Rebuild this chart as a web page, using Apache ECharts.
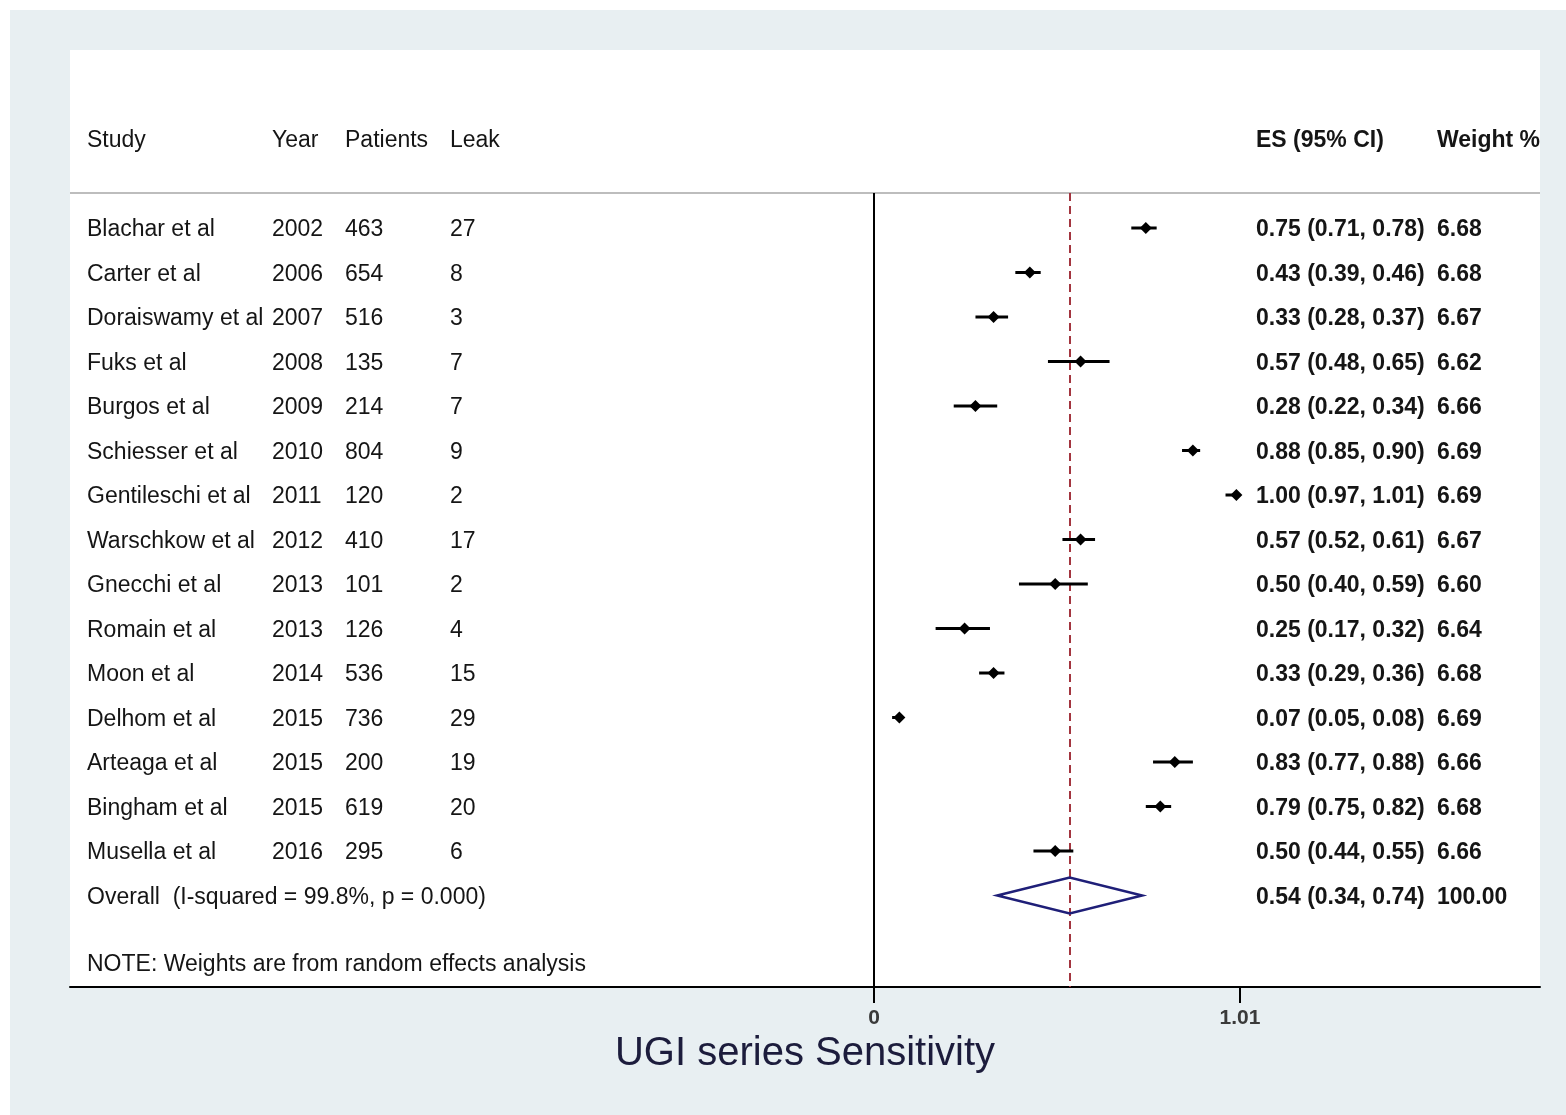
<!DOCTYPE html>
<html><head><meta charset="utf-8">
<script src="https://cdn.jsdelivr.net/npm/echarts@6/dist/echarts.min.js"></script>
<style>html,body{margin:0;padding:0;background:#fff;overflow:hidden}#c{position:absolute;left:10px;top:10px;width:1556px;height:1105px;}</style>
</head><body><div id="c"></div>
<script>
const studies = ["Blachar et al","Carter et al","Doraiswamy et al","Fuks et al","Burgos et al","Schiesser et al","Gentileschi et al","Warschkow et al","Gnecchi et al","Romain et al","Moon et al","Delhom et al","Arteaga et al","Bingham et al","Musella et al"];
const years = [2002,2006,2007,2008,2009,2010,2011,2012,2013,2013,2014,2015,2015,2015,2016];
const patients = [463,654,516,135,214,804,120,410,101,126,536,736,200,619,295];
const leaks = [27,8,3,7,7,9,2,17,2,4,15,29,19,20,6];
const es = [0.75,0.43,0.33,0.57,0.28,0.88,1.00,0.57,0.50,0.25,0.33,0.07,0.83,0.79,0.50];
const lo = [0.71,0.39,0.28,0.48,0.22,0.85,0.97,0.52,0.40,0.17,0.29,0.05,0.77,0.75,0.44];
const hi = [0.78,0.46,0.37,0.65,0.34,0.90,1.01,0.61,0.59,0.32,0.36,0.08,0.88,0.82,0.55];
const weights = [6.68,6.68,6.67,6.62,6.66,6.69,6.69,6.67,6.60,6.64,6.68,6.69,6.66,6.68,6.66];
const overallES = 0.54, overallLo = 0.34, overallHi = 0.74, overallWeight = 100.00;
const overallLabel = "Overall  (I-squared = 99.8%, p = 0.000)";
const noteText = "NOTE: Weights are from random effects analysis";
const headers = ["Study","Year","Patients","Leak","ES (95% CI)","Weight %"];
const tickValues = [0, 1.01];
const axisTitle = "UGI series Sensitivity";

const XMIN = -2.2186, XMAX = 1.8378, YMIN = -4, YMAX = 17.056;
const HEADER_ROW = -2, LINE_ROW = -0.7865, OVERALL_ROW = 15, NOTE_ROW = 16.5;
const COLX = [77, 262, 335, 440, 1246, 1427];
const FONT = '"Liberation Sans", Arial, sans-serif';
const TXT = '#151515';

function fmt(v){return v.toFixed(2);}
const textRows = [];
textRows.push({row: HEADER_ROW, cells: headers, header: true});
studies.forEach((s,i)=>{
  textRows.push({row:i, cells:[s, String(years[i]), String(patients[i]), String(leaks[i]),
    fmt(es[i])+' ('+fmt(lo[i])+', '+fmt(hi[i])+')', fmt(weights[i])]});
});
textRows.push({row: OVERALL_ROW, cells:[overallLabel,'','','', fmt(overallES)+' ('+fmt(overallLo)+', '+fmt(overallHi)+')', fmt(overallWeight)]});
textRows.push({row: NOTE_ROW, cells:[noteText,'','','','','']});

const ciData = studies.map((s,i)=>[lo[i],hi[i],es[i],i]);

const chart = echarts.init(document.getElementById('c'));
chart.setOption({
  backgroundColor:'#e8eff2',
  animation:false,
  grid:{left:60,right:26,top:40,bottom:128,show:true,backgroundColor:'#fff',borderWidth:0},
  xAxis:{type:'value',min:XMIN,max:XMAX,position:'bottom',
    axisLine:{onZero:false,lineStyle:{color:'#000',width:2}},
    axisTick:{show:true,customValues:tickValues,length:16,lineStyle:{color:'#000',width:2}},
    axisLabel:{customValues:tickValues,margin:21,fontSize:21,fontWeight:'bold',color:'#3a3a3a',fontFamily:FONT,
      formatter:v=>(Math.abs(v)<1e-9?'0':String(v))},
    splitLine:{show:false},
    name:axisTitle,nameLocation:'middle',nameGap:43,
    nameTextStyle:{fontSize:40,color:'#1c1c3c',fontFamily:FONT}},
  yAxis:{type:'value',min:YMIN,max:YMAX,inverse:true,show:false,splitLine:{show:false}},
  series:[
    {type:'custom',name:'ci',data:ciData,clip:false,z:5,
     renderItem:(p,api)=>{
       const a=api.coord([api.value(0),api.value(3)]), b=api.coord([api.value(1),api.value(3)]), m=api.coord([api.value(2),api.value(3)]);
       const r=6;
       return {type:'group',children:[
         {type:'line',shape:{x1:a[0],y1:a[1],x2:b[0],y2:b[1]},style:{stroke:'#000',lineWidth:3}},
         {type:'polygon',shape:{points:[[m[0],m[1]-r],[m[0]+r,m[1]],[m[0],m[1]+r],[m[0]-r,m[1]]]},style:{fill:'#000'}}
       ]};
     },
     markLine:{silent:true,symbol:'none',label:{show:false},
       data:[
         [{coord:[XMIN,LINE_ROW],lineStyle:{color:'#bdbdbd',width:2,type:'solid'}},{coord:[XMAX,LINE_ROW]}],
         [{coord:[0,LINE_ROW],lineStyle:{color:'#000',width:2,type:'solid'}},{coord:[0,YMAX]}],
         [{coord:[overallES,LINE_ROW],lineStyle:{color:'#a3353f',width:2,type:[8,5]}},{coord:[overallES,YMAX]}]
       ]}
    },
    {type:'custom',name:'overall',data:[[overallLo,overallHi,overallES,OVERALL_ROW]],z:6,
     renderItem:(p,api)=>{
       const row=api.value(3);
       const l=api.coord([api.value(0),row]), h=api.coord([api.value(1),row]);
       const t=api.coord([api.value(2),row-0.405]), b=api.coord([api.value(2),row+0.405]);
       return {type:'polygon',shape:{points:[l,t,h,b]},style:{fill:'none',stroke:'#1f1f78',lineWidth:2.5}};
     }},
    {type:'custom',name:'text',data:textRows.map((r,i)=>[0,r.row,i]),z:7,clip:false,
     renderItem:(p,api)=>{
       const r=textRows[api.value(2)];
       const y=api.coord([0,api.value(1)])[1]+2;
       const kids=[];
       r.cells.forEach((c,j)=>{
         if(!c) return;
         const bold = j>=4;
         kids.push({type:'text',style:{text:c,x:COLX[j],y:y,verticalAlign:'middle',align:'left',
           font:(bold?'bold ':'')+'23px '+FONT,fill:TXT}});
       });
       return {type:'group',children:kids};
     }}
  ]
});
</script></body></html>
